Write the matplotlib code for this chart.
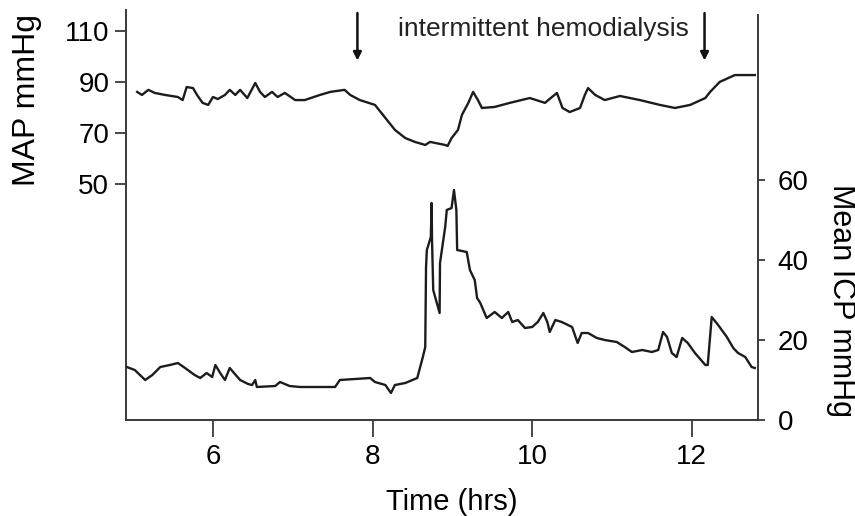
import matplotlib
matplotlib.use("Agg")
import matplotlib.pyplot as plt

plt.rcParams['font.family'] = ['Liberation Sans', 'DejaVu Sans']

# mean arterial pressure (left axis)
map_t = [5.05, 5.11, 5.19, 5.27, 5.40, 5.56, 5.62, 5.67, 5.75, 5.80, 5.87, 5.94,
         6.00, 6.06, 6.15, 6.21, 6.28, 6.34, 6.43, 6.53, 6.59, 6.65, 6.74, 6.81,
         6.90, 7.03, 7.15, 7.34, 7.47, 7.65, 7.72, 7.84, 8.03, 8.16, 8.28, 8.41,
         8.53, 8.66, 8.72, 8.91, 8.94, 8.99, 9.07, 9.12, 9.20, 9.26, 9.32, 9.37,
         9.53, 9.72, 9.97, 10.16, 10.31, 10.38, 10.47, 10.60, 10.66, 10.70, 10.79,
         10.91, 11.10, 11.35, 11.60, 11.79, 11.98, 12.17, 12.23, 12.35, 12.54, 12.79]
map_v = [86.1, 84.9, 86.9, 85.7, 84.9, 84.1, 82.9, 88.0, 87.6, 84.9, 81.8, 81.0,
         84.1, 83.3, 84.9, 86.9, 84.9, 86.9, 83.7, 89.6, 86.1, 84.1, 86.1, 84.1,
         85.7, 82.9, 82.9, 84.9, 86.1, 86.9, 84.9, 82.9, 81.0, 75.9, 71.2, 68.0,
         66.5, 65.3, 66.5, 65.3, 64.9, 68.0, 71.2, 77.1, 81.8, 86.1, 82.9, 79.8,
         80.2, 81.8, 83.7, 81.8, 85.7, 79.8, 78.2, 79.8, 84.9, 87.6, 84.9,
         82.9, 84.5, 82.9, 81.0, 79.8, 81.0, 83.7, 86.1, 90.0, 92.7, 92.7]

# mean intracranial pressure (right axis)
icp_t = [4.92, 5.02, 5.15, 5.24, 5.34, 5.46, 5.56, 5.65, 5.77, 5.84, 5.92, 5.99,
         6.03, 6.09, 6.15, 6.21, 6.34, 6.44, 6.49, 6.53, 6.55, 6.78, 6.84, 6.96,
         7.09, 7.53, 7.59, 7.97, 8.03, 8.16, 8.23, 8.28, 8.41, 8.56, 8.63, 8.66,
         8.67, 8.68, 8.73, 8.74, 8.745, 8.76, 8.84, 8.845, 8.91, 8.93, 8.99, 9.02,
         9.05, 9.06, 9.18, 9.22, 9.28, 9.31, 9.35, 9.43, 9.53, 9.62, 9.70, 9.75,
         9.82, 9.91, 10.00, 10.07, 10.14, 10.19, 10.22, 10.29, 10.37, 10.50, 10.57,
         10.62, 10.70, 10.81, 10.91, 11.06, 11.16, 11.25, 11.38, 11.50, 11.58,
         11.64, 11.69, 11.75, 11.81, 11.88, 11.95, 12.04, 12.17, 12.20, 12.25,
         12.33, 12.44, 12.52, 12.58, 12.67, 12.75, 12.79]
icp_v = [13.25, 12.5, 10.0, 11.25, 13.25, 13.75, 14.25, 13.0, 11.25, 10.5, 11.75, 10.75,
         13.75, 11.75, 10.0, 13.0, 10.0, 9.0, 8.75, 10.0, 8.25, 8.5, 9.5, 8.5,
         8.25, 8.25, 10.0, 10.5, 9.5, 8.75, 6.75, 8.75, 9.25, 10.5, 15.75, 18.25,
         38.25, 42.5, 45.75, 54.25, 45.0, 32.5, 26.75, 39.25, 48.25, 52.5, 53.0, 57.5,
         52.5, 42.5, 42.0, 37.5, 35.0, 30.5, 29.25, 25.5, 27.0, 25.5, 27.0, 24.5,
         25.0, 23.0, 23.25, 24.5, 26.75, 24.5, 22.0, 25.0, 24.5, 23.25, 19.25,
         21.75, 21.75, 20.5, 20.0, 19.5, 18.25, 17.0, 17.5, 17.0, 17.5,
         22.0, 20.75, 16.75, 15.75, 20.5, 19.25, 16.75, 13.75, 13.75, 25.75,
         23.75, 20.75, 18.0, 16.75, 15.75, 13.25, 13.0]

x_ticks = [6, 8, 10, 12]
map_ticks = [50, 70, 90, 110]
icp_ticks = [0, 20, 40, 60]
hd_start, hd_end = 7.81, 12.16

line_c = '#1c1c1c'
spine_c = '#3a3a3a'

fig = plt.figure(figsize=(8.55, 5.16), dpi=100)
ax = fig.add_axes([126 / 855, 1 - 420 / 516, (758 - 126) / 855, 410 / 516])
ax2 = ax.twinx()

ax.plot(map_t, map_v, color=line_c, lw=1.7)
ax2.plot(icp_t, icp_v, color=line_c, lw=1.7)

ax.set_xlim(4.91, 12.83)
ax.set_ylim(-42.5, 118.2)
ax2.set_ylim(0, 102.5)

for a in (ax, ax2):
    a.spines['top'].set_visible(False)
    for s in a.spines.values():
        s.set_color(spine_c)
        s.set_linewidth(1.4)
ax.spines['right'].set_visible(False)
ax2.spines['left'].set_visible(False)
ax2.spines['bottom'].set_visible(False)
ax2.spines['right'].set_bounds(0, 101.2)

ax.set_xticks(x_ticks)
ax.set_yticks(map_ticks)
ax2.set_yticks(icp_ticks)
ax.tick_params(axis='x', length=12, width=1.3, color=spine_c, pad=5, labelsize=20)
ax.tick_params(axis='y', length=8, width=1.3, color=spine_c, pad=4, labelsize=20)
ax2.tick_params(axis='y', length=5, width=1.3, color=spine_c, pad=9, labelsize=20)

ax.set_xlabel('Time (hrs)', fontsize=21)
ax.xaxis.set_label_coords(0.516, -0.165)
fig.text(27 / 855, 1 - 100 / 516, 'MAP mmHg', rotation=90, fontsize=23,
         ha='center', va='center')
fig.text(841 / 855, 1 - 300 / 516, 'Mean ICP mmHg', rotation=270, fontsize=22,
         ha='center', va='center')

for t in (hd_start, hd_end):
    ax.annotate('', xy=(t, 98.4), xytext=(t, 117.0),
                arrowprops=dict(arrowstyle='-|>', color='#111111', lw=1.8,
                                mutation_scale=12, shrinkA=0, shrinkB=0))
ax.text((hd_start + hd_end) / 2 + 0.16, 110.7, 'intermittent hemodialysis',
        fontsize=19, ha='center', va='center', color='#222222')

fig.savefig('out.png', dpi=100)
